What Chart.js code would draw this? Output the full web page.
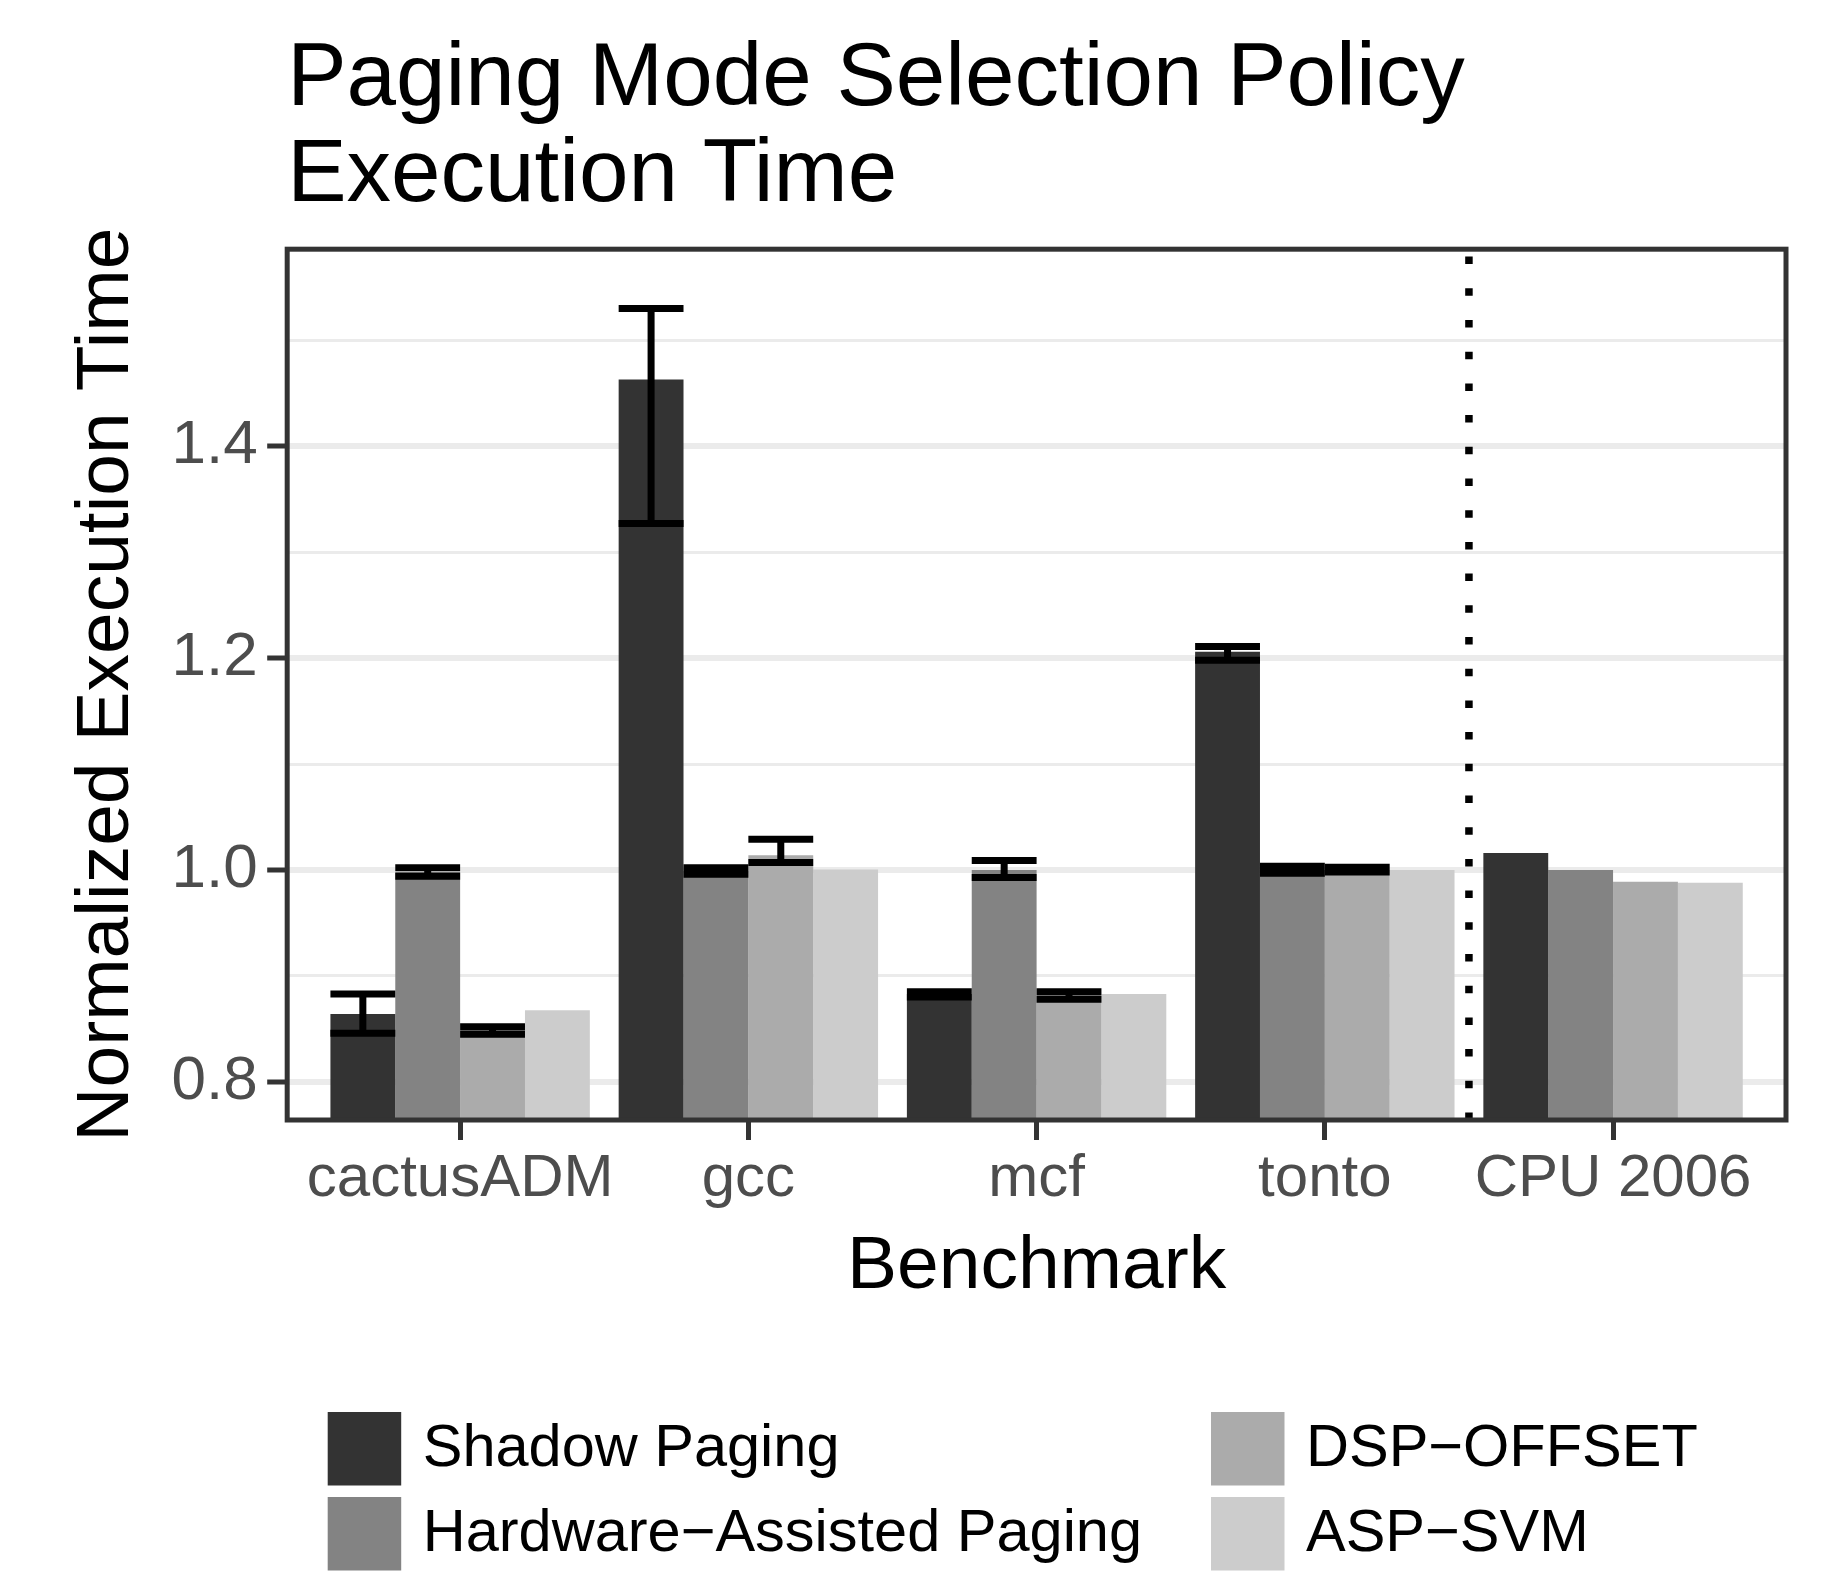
<!DOCTYPE html>
<html>
<head>
<meta charset="utf-8">
<script src="https://cdn.jsdelivr.net/npm/chart.js@4.4.1/dist/chart.umd.min.js"></script>
<style>
  html, body { margin: 0; padding: 0; background: #fff; }
  #wrap { width: 1834px; height: 1572px; }
</style>
</head>
<body>
<div id="wrap"><canvas id="chart" width="1834" height="1572"></canvas></div>
<script>
// données
const benchmarks = ['cactusADM', 'gcc', 'mcf', 'tonto', 'CPU 2006'];
const seriesNames = ['Shadow Paging', 'Hardware\u2212Assisted Paging', 'DSP\u2212OFFSET', 'ASP\u2212SVM'];
const seriesColors = ['#333333', '#838383', '#ababab', '#cccccc'];

const shadowPaging = [0.864, 1.463, 0.883, 1.206, 1.016];
const shadowLow    = [0.846, 1.327, 0.880, 1.198, null];
const shadowHigh   = [0.883, 1.530, 0.885, 1.211, null];

const hwAssisted   = [0.998, 0.999, 1.000, 1.000, 1.000];
const hwLow        = [0.994, 0.996, 0.993, 0.997, null];
const hwHigh       = [1.002, 1.002, 1.009, 1.0035, null];

const dspOffset    = [0.849, 1.014, 0.8815, 1.000, 0.989];
const dspLow       = [0.845, 1.007, 0.878, 0.998, null];
const dspHigh      = [0.852, 1.029, 0.885, 1.0025, null];

const aspSvm       = [0.8675, 1.0005, 0.883, 1.000, 0.988];

const yGridTicks  = [0.8, 0.9, 1.0, 1.1, 1.2, 1.3, 1.4, 1.5];
const yLabelTicks = [0.8, 1.0, 1.2, 1.4];
const separatorBetween = ['tonto', 'CPU 2006'];

const FONT = '"Liberation Sans", Arial, Helvetica, sans-serif';
Chart.defaults.font.family = FONT;

const isMajor = (v) => yLabelTicks.some((t) => Math.abs(t - v) < 1e-6);
const toPoints = (arr) => arr.map((v, i) => ({ x: i, y: v }));

const seriesValues = [shadowPaging, hwAssisted, dspOffset, aspSvm];
const seriesLow    = [shadowLow, hwLow, dspLow, null];
const seriesHigh   = [shadowHigh, hwHigh, dspHigh, null];

const datasets = seriesNames.map((name, k) => ({
    label: name,
    data: toPoints(seriesValues[k]),
    backgroundColor: seriesColors[k],
    borderWidth: 0,
    categoryPercentage: 0.9,
    barPercentage: 1.0,
    errLow: seriesLow[k],
    errHigh: seriesHigh[k],
}));

// barres d'erreur, séparateur pointillé, cadre du panneau
const overlays = {
    id: 'overlays',
    afterDatasetsDraw(chart) {
        const { ctx, chartArea: a, scales: { x, y } } = chart;
        ctx.save();
        ctx.strokeStyle = '#000';
        ctx.lineWidth = 7;
        ctx.lineCap = 'butt';
        chart.data.datasets.forEach((ds, k) => {
            if (!ds.errLow) return;
            const meta = chart.getDatasetMeta(k);
            ds.errLow.forEach((lo, i) => {
                const hi = ds.errHigh[i];
                if (lo == null || hi == null) return;
                const bar = meta.data[i];
                const half = bar.width / 2;
                const yLo = y.getPixelForValue(lo);
                const yHi = y.getPixelForValue(hi);
                ctx.beginPath();
                ctx.moveTo(bar.x, yLo); ctx.lineTo(bar.x, yHi);
                ctx.moveTo(bar.x - half, yLo); ctx.lineTo(bar.x + half, yLo);
                ctx.moveTo(bar.x - half, yHi); ctx.lineTo(bar.x + half, yHi);
                ctx.stroke();
            });
        });

        const sx = x.getPixelForValue(
            (benchmarks.indexOf(separatorBetween[0]) + benchmarks.indexOf(separatorBetween[1])) / 2);
        ctx.beginPath();
        ctx.setLineDash([7.5, 24.2]);
        ctx.lineWidth = 7.5;
        ctx.moveTo(sx, a.bottom);
        ctx.lineTo(sx, a.top);
        ctx.stroke();
        ctx.setLineDash([]);

        ctx.strokeStyle = '#333333';
        ctx.lineWidth = 5;
        ctx.strokeRect(a.left, a.top, a.right - a.left, a.bottom - a.top);
        ctx.restore();
    },
    afterDraw(chart) {
        // légende en deux colonnes, remplie colonne par colonne
        const { ctx } = chart;
        const colX = [327.7, 1211];
        const rowY = [1412, 1497];
        const box = 73.5;
        ctx.save();
        ctx.font = '59.5px ' + FONT;
        ctx.textBaseline = 'middle';
        ctx.textAlign = 'left';
        chart.data.datasets.forEach((ds, k) => {
            const bx = colX[Math.floor(k / 2)];
            const by = rowY[k % 2];
            ctx.fillStyle = ds.backgroundColor;
            ctx.fillRect(bx, by, box, box);
            ctx.fillStyle = '#000';
            ctx.fillText(ds.label, bx + box + 21.5, by + box / 2 + 1);
        });
        ctx.restore();
    },
};

new Chart(document.getElementById('chart'), {
    type: 'bar',
    data: { datasets },
    plugins: [overlays],
    options: {
        responsive: false,
        animation: false,
        devicePixelRatio: 1,
        layout: { padding: { left: 0, right: 48, top: 0, bottom: 260 } },
        plugins: {
            legend: { display: false },
            tooltip: { enabled: false },
            title: {
                display: true,
                text: ['Paging Mode Selection Policy', 'Execution Time'],
                align: 'start',
                fullSize: false,
                color: '#000',
                font: { size: 89, weight: 'normal', lineHeight: 1.0865 },
                padding: { top: 31.85, bottom: 23.95 },
            },
        },
        scales: {
            x: {
                type: 'linear',
                min: -0.6,
                max: 4.6,
                offset: false,
                afterBuildTicks: (s) => { s.ticks = benchmarks.map((_, i) => ({ value: i })); },
                ticks: {
                    autoSkip: false,
                    maxRotation: 0,
                    minRotation: 0,
                    padding: 3,
                    color: '#4d4d4d',
                    font: { size: 60 },
                    callback: (v) => benchmarks[v],
                },
                grid: {
                    drawOnChartArea: false,
                    drawTicks: true,
                    offset: false,
                    tickLength: 20,
                    tickWidth: 5,
                    tickColor: '#333333',
                },
                border: { display: false },
                title: {
                    display: true,
                    text: 'Benchmark',
                    color: '#000',
                    font: { size: 75 },
                    padding: { top: 4, bottom: 0 },
                },
            },
            y: {
                min: 0.764,
                max: 1.586,
                afterBuildTicks: (s) => { s.ticks = yGridTicks.map((v) => ({ value: v })); },
                ticks: {
                    padding: 9.5,
                    color: '#4d4d4d',
                    font: { size: 62 },
                    callback: (v) => isMajor(v) ? v.toFixed(1) : '',
                },
                grid: {
                    color: '#ebebeb',
                    lineWidth: (c) => c.tick && isMajor(c.tick.value) ? 6 : 3,
                    tickLength: 20,
                    tickWidth: 5,
                    tickColor: (c) => c.tick && isMajor(c.tick.value) ? '#333333' : 'rgba(0,0,0,0)',
                },
                border: { display: false },
                title: {
                    display: true,
                    text: 'Normalized Execution Time',
                    color: '#000',
                    font: { size: 75 },
                    padding: { top: 62.5, bottom: 9.5 },
                },
            },
        },
    },
});
</script>
</body>
</html>
